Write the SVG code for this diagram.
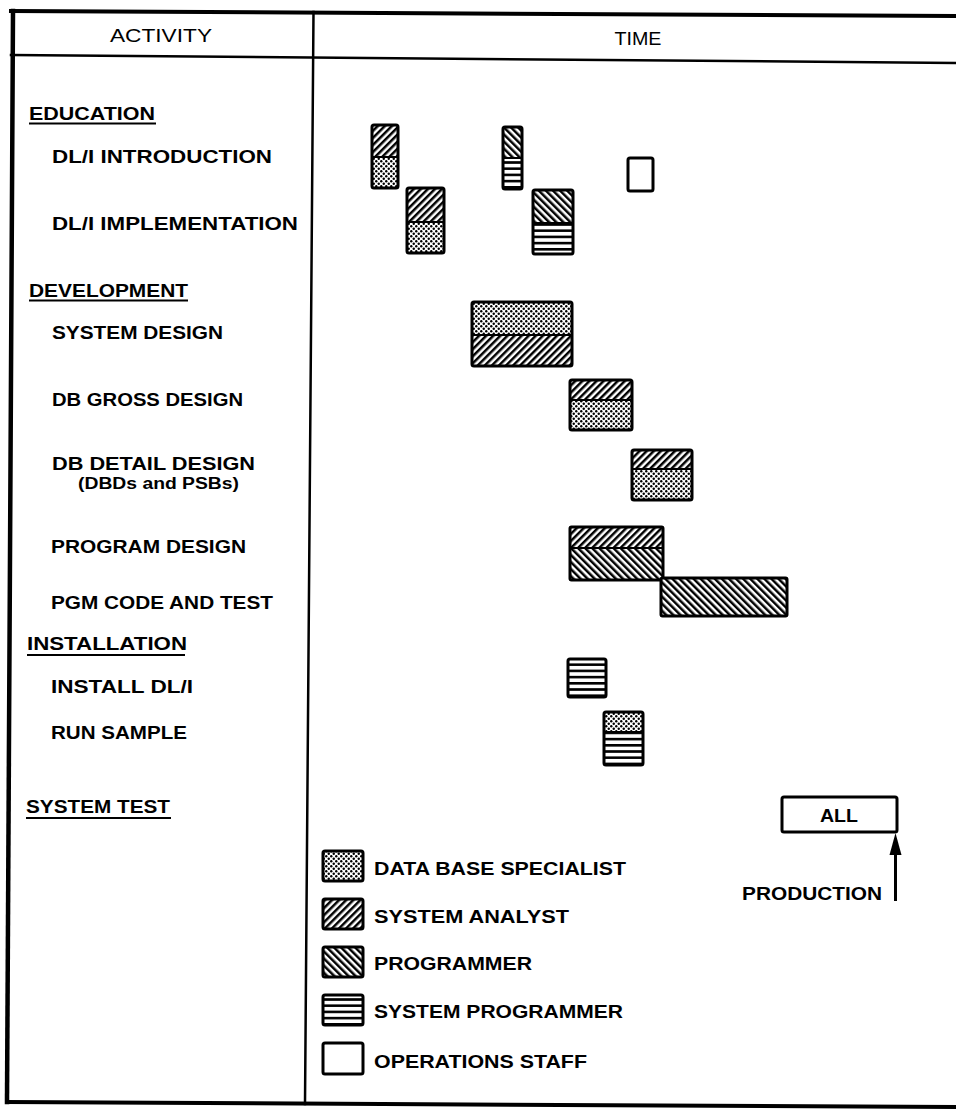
<svg xmlns="http://www.w3.org/2000/svg" width="956" height="1112" viewBox="0 0 956 1112">
<style>
  text { font-family: "Liberation Sans", Arial, Helvetica, sans-serif; fill: #000; }
  .hdr { font-size: 19px; }
  .lbl { font-size: 18px; font-weight: bold; }
  .sub { font-size: 16px; font-weight: bold; }
  .leg { font-size: 18px; font-weight: bold; }
  .frame { stroke: #000; fill: none; stroke-linecap: square; }
  .bar { fill: none; stroke: #000; stroke-width: 3; }
  .split { stroke: #000; stroke-width: 2; }
  .ul { stroke: #000; stroke-width: 1.8; }
</style>
<defs>
  <pattern id="pDBS" width="5" height="5" patternUnits="userSpaceOnUse">
    <rect width="5" height="5" fill="#fff"/>
    <circle cx="1.25" cy="1.25" r="1.2" fill="#000"/>
    <circle cx="3.75" cy="3.75" r="1.2" fill="#000"/>
  </pattern>
  <pattern id="pSA" width="5" height="10" patternUnits="userSpaceOnUse" patternTransform="rotate(45)">
    <rect width="5" height="10" fill="#fff"/>
    <rect width="2.5" height="10" fill="#000"/>
  </pattern>
  <pattern id="pPRG" width="5" height="10" patternUnits="userSpaceOnUse" patternTransform="rotate(-45)">
    <rect width="5" height="10" fill="#fff"/>
    <rect width="2.5" height="10" fill="#000"/>
  </pattern>
  <pattern id="pSYS" width="10" height="6.2" patternUnits="userSpaceOnUse">
    <rect width="10" height="6.2" fill="#fff"/>
    <rect width="10" height="2.6" fill="#000"/>
  </pattern>
</defs>

<rect width="956" height="1112" fill="#fff"/>

<g id="frame">
  <line class="frame" x1="11" y1="11" x2="956" y2="16" stroke-width="4"/>
  <line class="frame" x1="11" y1="55" x2="956" y2="63" stroke-width="2.5"/>
  <line class="frame" x1="13" y1="11" x2="7" y2="1102" stroke-width="4.5"/>
  <line class="frame" x1="313.5" y1="12" x2="305" y2="1104" stroke-width="2.5"/>
  <line class="frame" x1="7" y1="1102" x2="956" y2="1107" stroke-width="4"/>
  <text class="hdr" x="161" y="42" text-anchor="middle" textLength="102" lengthAdjust="spacingAndGlyphs">ACTIVITY</text>
  <text class="hdr" x="638" y="45" text-anchor="middle" textLength="47" lengthAdjust="spacingAndGlyphs">TIME</text>
</g>

<g id="activities">
  <g id="lbl-education">
    <text class="lbl" x="29" y="120" textLength="126" lengthAdjust="spacingAndGlyphs">EDUCATION</text>
    <line class="ul" x1="29" y1="123.5" x2="156" y2="123.5"/>
  </g>
  <text id="lbl-dli-intro" class="lbl" x="52" y="163" textLength="220" lengthAdjust="spacingAndGlyphs">DL/I INTRODUCTION</text>
  <text id="lbl-dli-impl" class="lbl" x="52" y="230" textLength="246" lengthAdjust="spacingAndGlyphs">DL/I IMPLEMENTATION</text>
  <g id="lbl-development">
    <text class="lbl" x="29" y="297" textLength="159" lengthAdjust="spacingAndGlyphs">DEVELOPMENT</text>
    <line class="ul" x1="29" y1="300.5" x2="188" y2="300.5"/>
  </g>
  <text id="lbl-sysdesign" class="lbl" x="52" y="339" textLength="171" lengthAdjust="spacingAndGlyphs">SYSTEM DESIGN</text>
  <text id="lbl-dbgross" class="lbl" x="52" y="406" textLength="191" lengthAdjust="spacingAndGlyphs">DB GROSS DESIGN</text>
  <g id="lbl-dbdetail">
    <text class="lbl" x="52" y="470" textLength="203" lengthAdjust="spacingAndGlyphs">DB DETAIL DESIGN</text>
    <text class="sub" x="78" y="489" textLength="161" lengthAdjust="spacingAndGlyphs">(DBDs and PSBs)</text>
  </g>
  <text id="lbl-pgmdesign" class="lbl" x="51" y="553" textLength="195" lengthAdjust="spacingAndGlyphs">PROGRAM DESIGN</text>
  <text id="lbl-pgmcode" class="lbl" x="51" y="609" textLength="222" lengthAdjust="spacingAndGlyphs">PGM CODE AND TEST</text>
  <g id="lbl-installation">
    <text class="lbl" x="27" y="650" textLength="160" lengthAdjust="spacingAndGlyphs">INSTALLATION</text>
    <line class="ul" x1="27" y1="655" x2="185" y2="655"/>
  </g>
  <text id="lbl-install" class="lbl" x="51" y="693" textLength="142" lengthAdjust="spacingAndGlyphs">INSTALL DL/I</text>
  <text id="lbl-runsample" class="lbl" x="51" y="739" textLength="136" lengthAdjust="spacingAndGlyphs">RUN SAMPLE</text>
  <g id="lbl-systest">
    <text class="lbl" x="26" y="813" textLength="144" lengthAdjust="spacingAndGlyphs">SYSTEM TEST</text>
    <line class="ul" x1="26" y1="818" x2="171" y2="818"/>
  </g>
</g>

<g id="bars">
  <g id="bar-intro-1">
    <rect x="372" y="125" width="26" height="32" fill="url(#pSA)"/>
    <rect x="372" y="157" width="26" height="31" fill="url(#pDBS)"/>
    <line class="split" x1="372" y1="157" x2="398" y2="157"/>
    <rect class="bar" x="372" y="125" width="26" height="63" rx="2"/>
  </g>
  <g id="bar-intro-2">
    <rect x="503" y="127" width="19" height="31" fill="url(#pPRG)"/>
    <rect x="503" y="158" width="19" height="31" fill="url(#pSYS)"/>
    <line class="split" x1="503" y1="158" x2="522" y2="158"/>
    <rect class="bar" x="503" y="127" width="19" height="62" rx="2"/>
  </g>
  <g id="bar-intro-3">
    <rect class="bar" x="628" y="158" width="25" height="33" rx="2" fill="#fff" stroke-width="2.6"/>
  </g>
  <g id="bar-impl-1">
    <rect x="407" y="188" width="37" height="34" fill="url(#pSA)"/>
    <rect x="407" y="222" width="37" height="31" fill="url(#pDBS)"/>
    <line class="split" x1="407" y1="222" x2="444" y2="222"/>
    <rect class="bar" x="407" y="188" width="37" height="65" rx="2"/>
  </g>
  <g id="bar-impl-2">
    <rect x="533" y="190" width="40" height="33" fill="url(#pPRG)"/>
    <rect x="533" y="223" width="40" height="31" fill="url(#pSYS)"/>
    <line class="split" x1="533" y1="223" x2="573" y2="223"/>
    <rect class="bar" x="533" y="190" width="40" height="64" rx="2"/>
  </g>
  <g id="bar-sysdesign">
    <rect x="472" y="302" width="100" height="33" fill="url(#pDBS)"/>
    <rect x="472" y="335" width="100" height="31" fill="url(#pSA)"/>
    <line class="split" x1="472" y1="335" x2="572" y2="335"/>
    <rect class="bar" x="472" y="302" width="100" height="64" rx="2"/>
  </g>
  <g id="bar-dbgross">
    <rect x="570" y="380" width="62" height="20" fill="url(#pSA)"/>
    <rect x="570" y="400" width="62" height="30" fill="url(#pDBS)"/>
    <line class="split" x1="570" y1="400" x2="632" y2="400"/>
    <rect class="bar" x="570" y="380" width="62" height="50" rx="2"/>
  </g>
  <g id="bar-dbdetail">
    <rect x="632" y="450" width="60" height="19" fill="url(#pSA)"/>
    <rect x="632" y="469" width="60" height="31" fill="url(#pDBS)"/>
    <line class="split" x1="632" y1="469" x2="692" y2="469"/>
    <rect class="bar" x="632" y="450" width="60" height="50" rx="2"/>
  </g>
  <g id="bar-pgmdesign">
    <rect x="570" y="527" width="93" height="21" fill="url(#pSA)"/>
    <rect x="570" y="548" width="93" height="32" fill="url(#pPRG)"/>
    <line class="split" x1="570" y1="548" x2="663" y2="548"/>
    <rect class="bar" x="570" y="527" width="93" height="53" rx="1.5"/>
  </g>
  <g id="bar-pgmcode">
    <rect x="661" y="578" width="126" height="38" fill="url(#pPRG)"/>
    <rect class="bar" x="661" y="578" width="126" height="38" rx="1.5"/>
  </g>
  <g id="bar-install">
    <rect x="568" y="659" width="38" height="38" fill="url(#pSYS)"/>
    <rect class="bar" x="568" y="659" width="38" height="38" rx="2"/>
  </g>
  <g id="bar-runsample">
    <rect x="604" y="712" width="39" height="20" fill="url(#pDBS)"/>
    <rect x="604" y="732" width="39" height="33" fill="url(#pSYS)"/>
    <line class="split" x1="604" y1="732" x2="643" y2="732"/>
    <rect class="bar" x="604" y="712" width="39" height="53" rx="2"/>
  </g>
  <g id="bar-systest">
    <rect class="bar" x="782" y="797" width="115" height="35" rx="2" fill="#fff" stroke-width="2.6"/>
    <text class="lbl" x="839" y="822" text-anchor="middle" textLength="38" lengthAdjust="spacingAndGlyphs">ALL</text>
  </g>
</g>

<g id="production">
  <text class="leg" x="742" y="900" textLength="140" lengthAdjust="spacingAndGlyphs">PRODUCTION</text>
</g>

<g id="connectors">
  <line x1="895.5" y1="901" x2="895.5" y2="852" stroke="#000" stroke-width="3"/>
  <polygon points="889.5,855 895.5,833 901.5,855" fill="#000"/>
</g>

<g id="legend">
  <g id="leg-dbs">
    <rect x="323" y="851" width="40" height="30" fill="url(#pDBS)"/>
    <rect class="bar" x="323" y="851" width="40" height="30" rx="2"/>
    <text class="leg" x="374" y="875" textLength="252" lengthAdjust="spacingAndGlyphs">DATA BASE SPECIALIST</text>
  </g>
  <g id="leg-sa">
    <rect x="323" y="899" width="40" height="30" fill="url(#pSA)"/>
    <rect class="bar" x="323" y="899" width="40" height="30" rx="2"/>
    <text class="leg" x="374" y="923" textLength="195" lengthAdjust="spacingAndGlyphs">SYSTEM ANALYST</text>
  </g>
  <g id="leg-prg">
    <rect x="323" y="947" width="40" height="30" fill="url(#pPRG)"/>
    <rect class="bar" x="323" y="947" width="40" height="30" rx="2"/>
    <text class="leg" x="374" y="970" textLength="158" lengthAdjust="spacingAndGlyphs">PROGRAMMER</text>
  </g>
  <g id="leg-sys">
    <rect x="323" y="995" width="40" height="30" fill="url(#pSYS)"/>
    <rect class="bar" x="323" y="995" width="40" height="30" rx="2"/>
    <text class="leg" x="374" y="1018" textLength="249" lengthAdjust="spacingAndGlyphs">SYSTEM PROGRAMMER</text>
  </g>
  <g id="leg-ops">
    <rect class="bar" x="323" y="1043" width="40" height="31" rx="2" fill="#fff" stroke-width="2.6"/>
    <text class="leg" x="374" y="1068" textLength="213" lengthAdjust="spacingAndGlyphs">OPERATIONS STAFF</text>
  </g>
</g>
</svg>
